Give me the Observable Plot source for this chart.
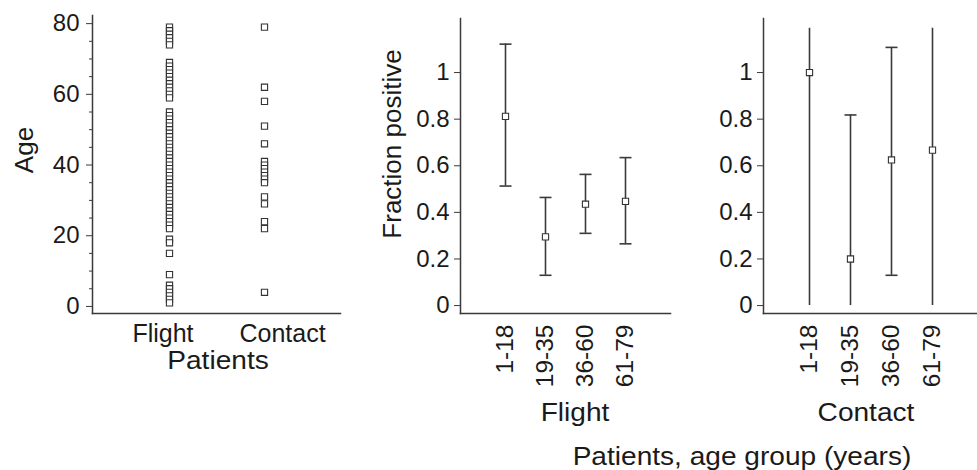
<!DOCTYPE html>
<html>
<head>
<meta charset="utf-8">
<script src="https://cdn.jsdelivr.net/npm/d3@7"></script>
<script src="https://cdn.jsdelivr.net/npm/@observablehq/plot@0.6"></script>
<style>
  html, body { margin: 0; padding: 0; background: #fff; }
  #wrap { position: relative; width: 977px; height: 470px; overflow: hidden; font-family: "Liberation Sans", Arial, sans-serif; color: #1a1a1a; }
  #wrap svg { position: absolute; top: 0; font-family: "Liberation Sans", Arial, sans-serif; }
  .lbl { position: absolute; font-size: 26px; white-space: nowrap; transform: translate(-50%, -50%) scaleX(1.08); line-height: 1; }
  .rot { transform: translate(-50%, -50%) rotate(-90deg) scaleX(1.0); }
</style>
</head>
<body>
<div id="wrap"></div>
<script>
// ---- Data ----
const patientGroups = ["Flight", "Contact"];
const flightAges = [79, 78, 77, 76, 75, 74,
  69, 68, 67, 66, 65, 64, 63, 62, 61, 60, 59,
  55, 54, 53, 52, 51, 50, 49, 48, 47, 46, 45, 44, 43, 42, 41, 40, 39, 38,
  37, 36, 35, 34, 33, 32, 31, 30, 29, 28, 27, 26, 25, 24, 23, 22,
  19, 18, 15, 9, 6, 5, 4, 3, 2, 1];
const contactAges = [79, 62, 58, 51, 46, 41, 40, 39, 38, 37, 36, 35, 31, 29, 24, 22, 4];
const ageTicks = [0, 20, 40, 60, 80];
const ageMinorTicks = [5, 10, 15, 25, 30, 35, 45, 50, 55, 65, 70, 75];

const ageGroups = ["1-18", "19-35", "36-60", "61-79"];
const flightFrac = [0.812, 0.295, 0.435, 0.447];
const flightLo = [0.513, 0.13, 0.31, 0.265];
const flightHi = [1.122, 0.464, 0.563, 0.635];
const flightCapLo = [true, true, true, true];
const flightCapHi = [true, true, true, true];
const contactFrac = [1.0, 0.2, 0.625, 0.667];
const contactLo = [0, 0, 0.13, 0];
const contactHi = [1.19, 0.818, 1.108, 1.19];
const contactCapLo = [false, false, true, false];
const contactCapHi = [false, true, true, false];
const fracTicks = [0, 0.2, 0.4, 0.6, 0.8, 1];

// ---- Build ----
const ink = "#3a3a3a";
const tickFont = 24;
const wrap = document.getElementById("wrap");
const fmt = d => (d === 0 ? "0" : d === 1 ? "1" : String(d));

const ageData = [
  ...flightAges.map(a => ({group: "Flight", age: a})),
  ...contactAges.map(a => ({group: "Contact", age: a}))
];

const p1 = Plot.plot({
  width: 345, height: 350,
  marginLeft: 92, marginRight: 5, marginTop: 15, marginBottom: 37,
  style: {color: "#1a1a1a", background: "transparent", fontSize: "24px", fontFamily: "Liberation Sans, Arial, sans-serif"},
  x: {type: "point", domain: patientGroups, padding: 0.8},
  y: {domain: [-2, 82.3]},
  marks: [
    Plot.frame({anchor: "left", stroke: ink, strokeWidth: 1.5}),
    Plot.frame({anchor: "bottom", stroke: ink, strokeWidth: 1.5}),
    Plot.axisY(ageTicks, {tickSize: 6, tickPadding: 7, label: null, stroke: ink, fontSize: tickFont}),
    Plot.axisY(ageMinorTicks, {tickSize: 3, tickFormat: () => "", label: null, stroke: ink}),
    Plot.axisX(["Flight"], {tickSize: 0, tickPadding: 11, dx: -6.5, label: null, fontSize: 25}),
    Plot.axisX(["Contact"], {tickSize: 0, tickPadding: 11, dx: 18, label: null, fontSize: 25}),
    Plot.dot(ageData, {x: "group", y: "age", symbol: "square", r: 3.5, stroke: "#333", fill: "white", strokeWidth: 1.1})
  ]
});
p1.style.left = "0px";
wrap.appendChild(p1);

const cap = {draw(ctx) { ctx.moveTo(-6, 0); ctx.lineTo(6, 0); }};

function fracPanel(frac, lo, hi, capLo, capHi, left, width, marginLeft, marginRight) {
  const rows = ageGroups.map((g, i) => ({g, p: frac[i], lo: lo[i], hi: hi[i], capLo: capLo[i], capHi: capHi[i]}));
  const svg = Plot.plot({
    width, height: 400,
    marginLeft, marginRight, marginTop: 18, marginBottom: 87,
    style: {color: "#1a1a1a", background: "transparent", fontSize: "24px", fontFamily: "Liberation Sans, Arial, sans-serif"},
    x: {type: "point", domain: ageGroups, padding: 1.07},
    y: {domain: [-0.034, 1.232]},
    marks: [
      Plot.frame({anchor: "left", stroke: ink, strokeWidth: 1.5}),
      Plot.frame({anchor: "bottom", stroke: ink, strokeWidth: 1.5}),
      Plot.axisY(fracTicks, {tickSize: 6, tickPadding: 5, label: null, stroke: ink, fontSize: tickFont, tickFormat: fmt}),
      Plot.axisX({tickSize: 0, tickPadding: 11, tickRotate: -90, label: null, fontSize: 24.5}),
      Plot.ruleX(rows, {x: "g", y1: "lo", y2: "hi", stroke: ink, strokeWidth: 1.6}),
      Plot.dot(rows.filter(d => d.capHi), {x: "g", y: "hi", symbol: cap, stroke: ink, strokeWidth: 1.6}),
      Plot.dot(rows.filter(d => d.capLo), {x: "g", y: "lo", symbol: cap, stroke: ink, strokeWidth: 1.6}),
      Plot.dot(rows, {x: "g", y: "p", symbol: "square", r: 3.5, stroke: "#333", fill: "white", strokeWidth: 1.1})
    ]
  });
  svg.style.left = left + "px";
  wrap.appendChild(svg);
}

fracPanel(flightFrac, flightLo, flightHi, flightCapLo, flightCapHi, 340, 335, 120, 5);
fracPanel(contactFrac, contactLo, contactHi, contactCapLo, contactCapHi, 675, 302, 88, 0);

// ---- Titles ----
function label(text, x, y, rot) {
  const d = document.createElement("div");
  d.className = "lbl" + (rot ? " rot" : "");
  d.textContent = text;
  d.style.left = x + "px";
  d.style.top = y + "px";
  wrap.appendChild(d);
}
label("Age", 24, 150, true);
label("Fraction positive", 392, 144, true);
label("Patients", 218, 360, false);
label("Flight", 575, 412, false);
label("Contact", 866, 412, false);
label("Patients, age group (years)", 742, 456, false);
</script>
</body>
</html>
